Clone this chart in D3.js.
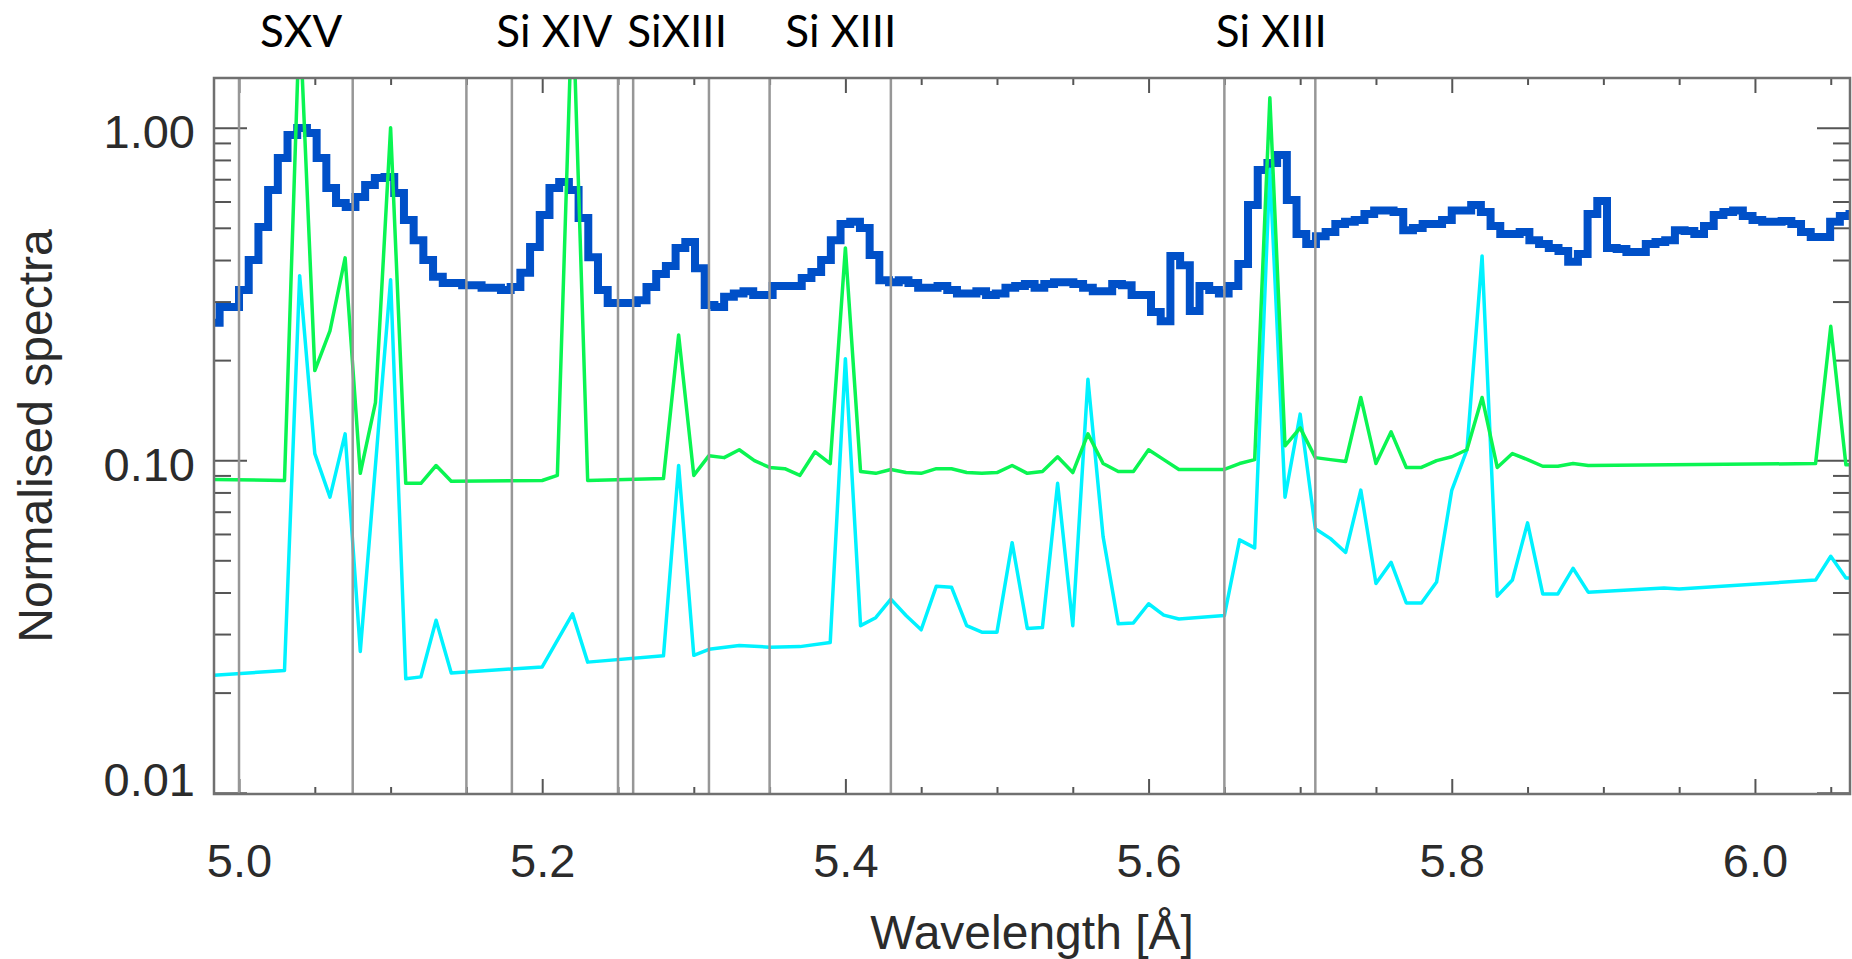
<!DOCTYPE html>
<html lang="en">
<head>
<meta charset="utf-8">
<title>Normalised spectra</title>
<script src="https://d3js.org/d3.v7.min.js"></script>
<style>
  html, body { margin: 0; padding: 0; background: #fff; }
  svg { display: block; }
  .tick-label { font: 47px "Liberation Sans", Arial, sans-serif; fill: #2b2b2b; }
  .axis-title { font: 48px "Liberation Sans", Arial, sans-serif; fill: #2b2b2b; }
  .ion { font: 44px Lato, "Open Sans", sans-serif; fill: #000; }
</style>
</head>
<body>
<svg width="1852" height="959"></svg>
<script>
// observed spectrum: histogram, bin i starts at binStart + i * binWidth (Å)
var binStart = 4.9808, binWidth = 0.0064;
var observed = [
  0.259, 0.289, 0.289, 0.325, 0.400, 0.503, 0.650, 0.811, 0.951, 0.998,
  0.964, 0.811, 0.659, 0.594, 0.577, 0.619, 0.673, 0.706, 0.711, 0.636,
  0.528, 0.459, 0.400, 0.356, 0.341, 0.341, 0.336, 0.336, 0.330, 0.330,
  0.325, 0.332, 0.366, 0.438, 0.546, 0.659, 0.687, 0.650, 0.535, 0.408,
  0.325, 0.297, 0.297, 0.297, 0.303, 0.332, 0.363, 0.384, 0.435, 0.453,
  0.378, 0.293, 0.289, 0.310, 0.317, 0.322, 0.314, 0.314, 0.334, 0.334,
  0.334, 0.353, 0.368, 0.400, 0.459, 0.513, 0.521, 0.499, 0.414, 0.348,
  0.343, 0.348, 0.341, 0.330, 0.330, 0.334, 0.325, 0.317, 0.317, 0.322,
  0.314, 0.317, 0.330, 0.334, 0.339, 0.330, 0.339, 0.343, 0.343, 0.339,
  0.330, 0.322, 0.322, 0.339, 0.336, 0.314, 0.314, 0.279, 0.262, 0.411,
  0.386, 0.281, 0.334, 0.325, 0.317, 0.334, 0.389, 0.586, 0.746, 0.783,
  0.828, 0.606, 0.479, 0.447, 0.472, 0.486, 0.513, 0.521, 0.528, 0.550,
  0.564, 0.564, 0.558, 0.492, 0.499, 0.513, 0.513, 0.528, 0.564, 0.564,
  0.586, 0.558, 0.506, 0.479, 0.479, 0.486, 0.459, 0.447, 0.435, 0.426,
  0.395, 0.417, 0.550, 0.602, 0.435, 0.432, 0.423, 0.423, 0.447, 0.453,
  0.459, 0.492, 0.489, 0.479, 0.506, 0.546, 0.558, 0.564, 0.543, 0.528,
  0.521, 0.521, 0.524, 0.513, 0.486, 0.469, 0.469, 0.521, 0.543, 0.550
];

// first model (green)
var greenWave = [4.98, 5.03, 5.04, 5.05, 5.06, 5.07, 5.08, 5.09, 5.10, 5.11,
  5.12, 5.13, 5.14, 5.20, 5.21, 5.22, 5.23, 5.28, 5.29, 5.30,
  5.31, 5.32, 5.33, 5.34, 5.35, 5.36, 5.37, 5.38, 5.39, 5.40,
  5.41, 5.42, 5.43, 5.44, 5.45, 5.46, 5.47, 5.48, 5.49, 5.50,
  5.51, 5.52, 5.53, 5.54, 5.55, 5.56, 5.57, 5.58, 5.59, 5.60,
  5.61, 5.62, 5.65, 5.66, 5.67, 5.68, 5.69, 5.70, 5.71, 5.72,
  5.73, 5.74, 5.75, 5.76, 5.77, 5.78, 5.79, 5.80, 5.81, 5.82,
  5.83, 5.84, 5.85, 5.86, 5.87, 5.88, 5.89, 6.04, 6.05, 6.06, 6.07];
var greenFlux = [0.0875, 0.0869, 2.18, 0.186, 0.245, 0.406, 0.0913, 0.149, 1.00, 0.0852,
  0.0852, 0.0964, 0.0864, 0.0869, 0.0900, 2.54, 0.0869, 0.0881, 0.238, 0.0900,
  0.1032, 0.1018, 0.1075, 0.0997, 0.0951, 0.0943, 0.0900, 0.1060, 0.0977, 0.435,
  0.0925, 0.0913, 0.0938, 0.0918, 0.0913, 0.0943, 0.0943, 0.0918, 0.0913, 0.0918,
  0.0964, 0.0913, 0.0925, 0.1024, 0.0918, 0.1200, 0.0977, 0.0925, 0.0925, 0.1075,
  0.1004, 0.0938, 0.0938, 0.0977, 0.1004, 1.23, 0.1105, 0.1251, 0.1018, 0.1004,
  0.0991, 0.1544, 0.0977, 0.1217, 0.0951, 0.0951, 0.0997, 0.1024, 0.1075, 0.1544,
  0.0951, 0.1047, 0.1004, 0.0959, 0.0959, 0.0977, 0.0964, 0.0977, 0.2527, 0.0969, 0.0969];

// second model (cyan)
var cyanWave = [4.98, 5.03, 5.04, 5.05, 5.06, 5.07, 5.08, 5.10, 5.11, 5.12,
  5.13, 5.14, 5.20, 5.22, 5.23, 5.28, 5.29, 5.30, 5.31, 5.33,
  5.35, 5.37, 5.39, 5.40, 5.41, 5.42, 5.43, 5.44, 5.45, 5.46,
  5.47, 5.48, 5.49, 5.50, 5.51, 5.52, 5.53, 5.54, 5.55, 5.56,
  5.57, 5.58, 5.59, 5.60, 5.61, 5.62, 5.65, 5.66, 5.67, 5.68,
  5.69, 5.70, 5.71, 5.72, 5.73, 5.74, 5.75, 5.76, 5.77, 5.78,
  5.79, 5.80, 5.81, 5.82, 5.83, 5.84, 5.85, 5.86, 5.87, 5.88,
  5.89, 5.94, 5.95, 6.04, 6.05, 6.06, 6.07];
var cyanFlux = [0.0225, 0.0233, 0.359, 0.1047, 0.0774, 0.1200, 0.0266, 0.349, 0.0220, 0.0223,
  0.0330, 0.0229, 0.0239, 0.0345, 0.0247, 0.0258, 0.0964, 0.0259, 0.0270, 0.0277,
  0.0274, 0.0275, 0.0283, 0.202, 0.0318, 0.0336, 0.0382, 0.0341, 0.0309, 0.0418,
  0.0415, 0.0318, 0.0304, 0.0304, 0.0565, 0.0312, 0.0314, 0.0852, 0.0318, 0.1751,
  0.0589, 0.0322, 0.0324, 0.0370, 0.0342, 0.0333, 0.0341, 0.0576, 0.0545, 0.75,
  0.0774, 0.1376, 0.0622, 0.0581, 0.0528, 0.0813, 0.0426, 0.0493, 0.0372, 0.0372,
  0.0430, 0.0812, 0.1075, 0.4116, 0.0390, 0.0436, 0.0648, 0.0396, 0.0396, 0.0473,
  0.0401, 0.0413, 0.0410, 0.0436, 0.0514, 0.0442, 0.0442];

// vertical reference lines and ion labels (Å)
var refLines = [5.00, 5.075, 5.15, 5.18, 5.25, 5.26, 5.31, 5.35, 5.43, 5.65, 5.71];
var ionNames = ["SXV", "Si XIV", "SiXIII", "Si XIII", "Si XIII"];
var ionWave = [5.041, 5.208, 5.289, 5.397, 5.681];

// ticks
var xMajor = [5.0, 5.2, 5.4, 5.6, 5.8, 6.0];
var xMinor = [5.05, 5.10, 5.15, 5.25, 5.30, 5.35, 5.45, 5.50, 5.55, 5.65, 5.70, 5.75, 5.85, 5.90, 5.95, 6.05];
var yMajor = [0.01, 0.1, 1];
var yMajorLabels = ["0.01", "0.10", "1.00"];
var yMinor = [0.02, 0.03, 0.04, 0.05, 0.06, 0.07, 0.08, 0.09, 0.2, 0.3, 0.4, 0.5, 0.6, 0.7, 0.8, 0.9];

var plot = {left: 214, right: 1850, top: 78, bottom: 794};
var svg = d3.select("svg");

var x = d3.scaleLinear().domain([4.9835, 6.0627]).range([plot.left, plot.right]);
var y = d3.scaleLog().domain([0.00991, 1.411]).range([plot.bottom, plot.top]);

svg.append("clipPath").attr("id", "clip")
  .append("rect")
    .attr("x", plot.left).attr("y", plot.top)
    .attr("width", plot.right - plot.left).attr("height", plot.bottom - plot.top);

function cleanAxis(g) {
  g.select(".domain").remove();
  g.selectAll(".tick line").attr("stroke", "#555").attr("stroke-width", 2);
}

// x axis, bottom and top
svg.append("g").attr("transform", "translate(0," + plot.bottom + ")")
  .call(d3.axisBottom(x).tickValues(xMinor).tickSize(-7).tickFormat(""))
  .call(cleanAxis);
svg.append("g").attr("transform", "translate(0," + plot.bottom + ")")
  .call(d3.axisBottom(x).tickValues(xMajor).tickSize(-15).tickPadding(50).tickFormat(d3.format(".1f")))
  .call(cleanAxis)
  .call(g => g.selectAll("text").attr("class", "tick-label"));
svg.append("g").attr("transform", "translate(0," + plot.top + ")")
  .call(d3.axisTop(x).tickValues(xMinor).tickSize(-7).tickFormat(""))
  .call(cleanAxis);
svg.append("g").attr("transform", "translate(0," + plot.top + ")")
  .call(d3.axisTop(x).tickValues(xMajor).tickSize(-15).tickFormat(""))
  .call(cleanAxis);

// y axis, left and right
svg.append("g").attr("transform", "translate(" + plot.left + ",0)")
  .call(d3.axisLeft(y).tickValues(yMinor).tickSize(-17).tickFormat(""))
  .call(cleanAxis);
svg.append("g").attr("transform", "translate(" + plot.left + ",0)")
  .call(d3.axisLeft(y).tickValues(yMajor).tickSize(-33).tickPadding(19)
    .tickFormat((d, i) => yMajorLabels[i]))
  .call(cleanAxis)
  .call(g => g.selectAll("text")
    .attr("class", "tick-label")
    .attr("dy", null)
    // labels sit just under their tick; the lowest one is kept above the axis
    .attr("y", d => Math.min(20, plot.bottom + 1 - y(d))));
svg.append("g").attr("transform", "translate(" + plot.right + ",0)")
  .call(d3.axisRight(y).tickValues(yMinor).tickSize(-17).tickFormat(""))
  .call(cleanAxis);
svg.append("g").attr("transform", "translate(" + plot.right + ",0)")
  .call(d3.axisRight(y).tickValues(yMajor).tickSize(-33).tickFormat(""))
  .call(cleanAxis);

// spectra
var data = svg.append("g").attr("clip-path", "url(#clip)");

var bluePts = observed.map((v, i) => [binStart + i * binWidth, v]);
bluePts.push([binStart + observed.length * binWidth, observed[observed.length - 1]]);

data.append("path")
  .attr("d", d3.line().x(d => x(d[0])).y(d => y(d[1])).curve(d3.curveStepAfter)(bluePts))
  .attr("fill", "none")
  .attr("stroke", "#0050c8")
  .attr("stroke-width", 8)
  .attr("stroke-linejoin", "miter");

var modelLine = d3.line().x(d => x(d[0])).y(d => y(d[1]));

data.append("path")
  .attr("d", modelLine(cyanWave.map((w, i) => [w, cyanFlux[i]])))
  .attr("fill", "none")
  .attr("stroke", "#00f2ff")
  .attr("stroke-width", 3.5)
  .attr("stroke-linejoin", "round");

data.append("path")
  .attr("d", modelLine(greenWave.map((w, i) => [w, greenFlux[i]])))
  .attr("fill", "none")
  .attr("stroke", "#0af552")
  .attr("stroke-width", 3.5)
  .attr("stroke-linejoin", "round");

// reference lines
svg.selectAll("line.ref")
  .data(refLines)
  .enter().append("line")
    .attr("class", "ref")
    .attr("x1", d => x(d)).attr("x2", d => x(d))
    .attr("y1", plot.top).attr("y2", plot.bottom)
    .attr("stroke", "#979797")
    .attr("stroke-width", 2.5);

// frame
svg.append("rect")
  .attr("x", plot.left).attr("y", plot.top)
  .attr("width", plot.right - plot.left).attr("height", plot.bottom - plot.top)
  .attr("fill", "none")
  .attr("stroke", "#707070")
  .attr("stroke-width", 2.5);

// titles
svg.append("text")
  .attr("class", "axis-title")
  .attr("x", (plot.left + plot.right) / 2)
  .attr("y", 949)
  .attr("text-anchor", "middle")
  .text("Wavelength [Å]");

svg.append("text")
  .attr("class", "axis-title")
  .attr("transform", "translate(52," + (plot.top + plot.bottom) / 2 + ") rotate(-90)")
  .attr("text-anchor", "middle")
  .text("Normalised spectra");

// ion labels above the plot
svg.selectAll("text.ion")
  .data(ionNames)
  .enter().append("text")
    .attr("class", "ion")
    .attr("x", (d, i) => x(ionWave[i]))
    .attr("y", 47)
    .attr("text-anchor", "middle")
    .text(d => d);
</script>
</body>
</html>
